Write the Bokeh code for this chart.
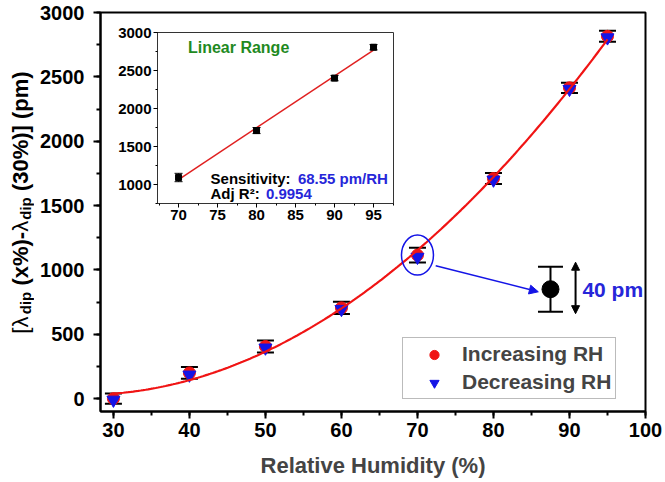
import numpy as np
from bokeh.plotting import figure
from bokeh.models import (ColumnDataSource, Whisker, TeeHead, Label, Legend, LegendItem,
                          SingleIntervalTicker, Range1d, Arrow, NormalHead)
from bokeh.core.properties import value
from bokeh.embed import file_html
from bokeh.resources import INLINE

# ---------------- data ----------------
hum = [30, 40, 50, 60, 70, 80, 90, 95]
inc_rh = [0, 200, 405, 705, 1115, 1710, 2415, 2815]
dec_rh = [-10, 185, 395, 695, 1100, 1700, 2405, 2805]
err = [40, 45, 47, 47, 58, 43, 40, 43]

lin_hum = [70, 80, 90, 95]
lin_val = [1092, 1710, 2400, 2806]
lin_err = [55, 40, 35, 35]

demo_x = [87.5]
demo_y = [850]
demo_err = [175]

# ---------------- style ----------------
FONT = "Liberation Sans"
RED = "#f01414"
BLUE = "#1414e6"
TBLUE = "#2626d9"
GREEN = "#1f8a1f"

W, H = 665, 482
BL, BR, BT, BB = 100, 20, 12, 71
Y0, Y1 = -100, 3000

p = figure(width=W, height=H, output_backend="svg", toolbar_location=None,
           x_range=Range1d(28.3, 100), y_range=Range1d(Y0, Y1),
           min_border_left=BL, min_border_right=BR, min_border_top=BT, min_border_bottom=BB)
p.background_fill_color = "white"
p.border_fill_color = "white"
p.grid.visible = False
p.outline_line_color = "black"
p.outline_line_width = 2

p.xaxis.ticker = SingleIntervalTicker(interval=10, num_minor_ticks=2)
p.yaxis.ticker = SingleIntervalTicker(interval=500, num_minor_ticks=2)
for ax in (p.xaxis[0], p.yaxis[0]):
    ax.axis_line_width = 2
    ax.axis_line_color = "black"
    ax.major_tick_line_width = 2
    ax.minor_tick_line_width = 2
    ax.major_tick_out = 7
    ax.major_tick_in = 0
    ax.minor_tick_out = 4
    ax.minor_tick_in = 0
    ax.major_label_text_font = FONT
    ax.major_label_text_font_style = "bold"
    ax.major_label_text_font_size = "20px"
    ax.major_label_text_color = "black"
p.xaxis.major_label_standoff = 4
p.yaxis.major_label_standoff = 9
p.xaxis.axis_label = "Relative Humidity (%)"
p.xaxis.axis_label_text_font = FONT
p.xaxis.axis_label_text_font_style = "bold"
p.xaxis.axis_label_text_font_size = "22px"
p.xaxis.axis_label_standoff = 13

# data points and error bars
src = ColumnDataSource(dict(
    x=hum, inc=inc_rh, dec=dec_rh,
    up=[v + e for v, e in zip(inc_rh, err)],
    lo=[v - e for v, e in zip(inc_rh, err)]))
r_inc = p.scatter("x", "inc", source=src, marker="circle", size=12, color=RED)
r_dec = p.scatter("x", "dec", source=src, marker="inverted_triangle", size=13, color=BLUE)
wh = Whisker(base="x", upper="up", lower="lo", source=src, line_width=2, line_color="black",
             upper_head=TeeHead(size=17, line_width=2, line_color="black"),
             lower_head=TeeHead(size=17, line_width=2, line_color="black"))
p.add_layout(wh)

# fitted curve (polynomial fit of the data)
avg = [(a + b) / 2 for a, b in zip(inc_rh, dec_rh)]
coef = np.polyfit(hum, avg, 2)
xs = np.linspace(hum[0], hum[-1], 200)
p.line(xs, np.polyval(coef, xs), line_color=RED, line_width=2.2)

# legend
legend = Legend(items=[LegendItem(label="Increasing RH", renderers=[r_inc]),
                       LegendItem(label="Decreasing RH", renderers=[r_dec])],
                location=(302, 12), padding=4, spacing=4, margin=0,
                glyph_width=54, glyph_height=23, label_height=23, label_standoff=1,
                label_text_font=FONT, label_text_font_style="bold",
                label_text_font_size="21px", border_line_color="#777777",
                border_line_width=1, background_fill_color="white")
p.add_layout(legend)

# highlight of the 70 % point
p.ellipse(x=[hum[4]], y=[inc_rh[4]], width=32, height=40, width_units="screen",
          height_units="screen", fill_color=None, line_color=BLUE, line_width=1.5)
p.add_layout(Arrow(end=NormalHead(size=9, fill_color=BLUE, line_color=BLUE),
                   x_start=72.4, y_start=1033, x_end=85.9, y_end=830,
                   line_color=BLUE, line_width=1.5))

# enlarged error bar
dsrc = ColumnDataSource(dict(x=demo_x, y=demo_y,
                             up=[a + b for a, b in zip(demo_y, demo_err)],
                             lo=[a - b for a, b in zip(demo_y, demo_err)]))
p.add_layout(Whisker(base="x", upper="up", lower="lo", source=dsrc, line_width=2,
                     line_color="black",
                     upper_head=TeeHead(size=25, line_width=2, line_color="black"),
                     lower_head=TeeHead(size=25, line_width=2, line_color="black")))
p.scatter("x", "y", source=dsrc, size=17, color="black")
p.add_layout(Arrow(start=NormalHead(size=8, fill_color="black"),
                   end=NormalHead(size=8, fill_color="black"),
                   x_start=90.8, y_start=660, x_end=90.8, y_end=1060,
                   line_color="black", line_width=2))
p.add_layout(Label(x=91.7, y=850, text="40 pm", text_font=FONT,
                   text_font_style="bold", text_font_size="21px", text_color=TBLUE,
                   text_baseline="middle"))

# ---------------- y-axis title (own small root with rotated text) ----------------
CW = {' ': .278, '(': .333, ')': .333, '[': .333, ']': .333, '%': .889, '-': .333,
      'x': .556, 'p': .611, 'm': .889, 'd': .611, 'i': .278, 'λ': .55}
def tw(s, size):
    return sum(CW.get(c, .556) for c in s) * size

LW, LH = 34, 330
yl = figure(width=LW, height=LH, output_backend="svg", toolbar_location=None,
            x_range=Range1d(0, LW), y_range=Range1d(0, LH),
            x_axis_type=None, y_axis_type=None,
            min_border_left=0, min_border_right=0, min_border_top=0, min_border_bottom=0,
            styles={"position": "absolute", "left": "0px", "top": f"{202 - LH // 2}px"})
yl.grid.visible = False
yl.outline_line_color = None
yl.background_fill_alpha = 0
yl.border_fill_alpha = 0
# (text, font size, style, baseline shift, leading gap in em)
pieces = [("[λ", 22, "normal", 0, 0), ("dip", 15, "bold", 5, 0),
          ("(x%)-", 22, "bold", 0, .278), ("λ", 22, "normal", 0, 0),
          ("dip", 15, "bold", 5, 0), ("(30%)] (pm)", 22, "bold", 0, .278)]
total = sum(tw(s, f) + g * f for s, f, _, _, g in pieces)
ycur = (LH - total) / 2
for s, f, st, off, g in pieces:
    ycur += g * f
    yl.text(x=[20 + off], y=[ycur], text=[s], angle=90, angle_units="deg",
            text_font=value(FONT), text_font_size=value(f"{f}px"),
            text_font_style=value(st), text_color="black",
            text_align="left", text_baseline="alphabetic")
    ycur += tw(s, f)

# ---------------- inset (separate root placed over the main plot) ----------------
ins = figure(width=292, height=206, output_backend="svg", toolbar_location=None,
             x_range=Range1d(67.3, 97.56), y_range=Range1d(750, 3000),
             min_border_left=45, min_border_right=11, min_border_top=10, min_border_bottom=25,
             styles={"position": "absolute", "left": "112px", "top": "22px"})
ins.background_fill_color = "white"
ins.border_fill_color = "white"
ins.grid.visible = False
ins.outline_line_color = "#333333"
ins.outline_line_width = 1
ins.xaxis.ticker = SingleIntervalTicker(interval=5, num_minor_ticks=2)
ins.yaxis.ticker = SingleIntervalTicker(interval=500, num_minor_ticks=2)
for ax in (ins.xaxis[0], ins.yaxis[0]):
    ax.axis_line_color = "#333333"
    ax.major_tick_out = 4
    ax.major_tick_in = 0
    ax.minor_tick_out = 2
    ax.minor_tick_in = 0
    ax.major_label_text_font = FONT
    ax.major_label_text_font_style = "bold"
    ax.major_label_text_font_size = "15px"
    ax.major_label_text_color = "black"
ins.xaxis.major_label_standoff = 2
ins.yaxis.major_label_standoff = 2

lsrc = ColumnDataSource(dict(x=lin_hum, y=lin_val,
                             up=[a + b for a, b in zip(lin_val, lin_err)],
                             lo=[a - b for a, b in zip(lin_val, lin_err)]))
lc = np.polyfit(lin_hum, lin_val, 1)
lx = np.array([lin_hum[0], lin_hum[-1]])
ins.line(lx, np.polyval(lc, lx), line_color="#e02020", line_width=1.5)
ins.add_layout(Whisker(base="x", upper="up", lower="lo", source=lsrc, line_width=1,
                       line_color="black",
                       upper_head=TeeHead(size=8, line_width=1, line_color="black"),
                       lower_head=TeeHead(size=8, line_width=1, line_color="black")))
ins.scatter("x", "y", source=lsrc, marker="square", size=6, color="black")

def ins_label(x, y, text, color, size="15px"):
    ins.add_layout(Label(x=x, y=y, text=text, text_font=FONT, text_font_style="bold",
                         text_font_size=size, text_color=color, text_baseline="middle"))

ins_label(71.2, 2800, "Linear Range", GREEN, "16px")
ins_label(74.1, 1080, "Sensitivity: ", "black")
ins_label(85.3, 1080, "68.55 pm/RH", TBLUE)
ins_label(74.1, 880, "Adj R²: ", "black")
ins_label(81.2, 880, "0.9954", TBLUE)

open("out.html", "w").write(file_html([p, ins, yl], INLINE))
